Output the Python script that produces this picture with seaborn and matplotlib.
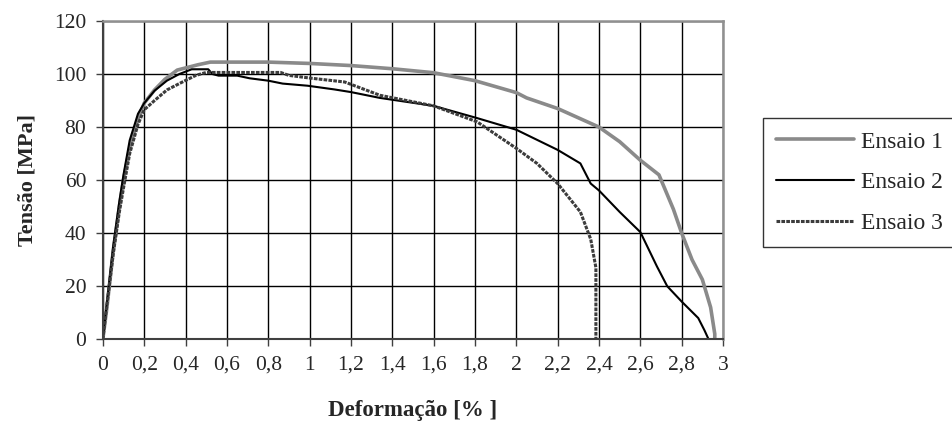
import matplotlib
matplotlib.use("Agg")
import matplotlib.pyplot as plt
import seaborn as sns
import pandas as pd

# ---- data ----
x1 = [0, 0.02, 0.05, 0.08, 0.10, 0.13, 0.17, 0.20, 0.25, 0.30, 0.36, 0.46, 0.52, 0.80, 1.00,
      1.20, 1.40, 1.60, 1.80, 2.00, 2.05, 2.20, 2.40, 2.50, 2.60, 2.69, 2.76, 2.80, 2.85,
      2.90, 2.94, 2.96, 2.96]
y1 = [0, 12, 33, 50, 60, 72, 83, 89, 94, 98, 101.5, 103.5, 104.5, 104.5, 104,
      103.2, 102, 100.5, 97.5, 93, 91, 87, 80, 74.5, 67.5, 62, 49, 40, 30,
      22.5, 12, 2, 0]

x2 = [0, 0.02, 0.05, 0.08, 0.10, 0.13, 0.17, 0.20, 0.25, 0.31, 0.37, 0.43, 0.51, 0.53, 0.56,
      0.65, 0.71, 0.80, 0.87, 0.99, 1.12, 1.20, 1.34, 1.60, 1.81, 2.00, 2.20, 2.31, 2.36,
      2.40, 2.50, 2.60, 2.68, 2.73, 2.80, 2.88, 2.91, 2.93]
y2 = [0, 14, 35, 52, 62, 75, 85, 89, 93.7, 97.5, 100, 101.8, 101.8, 100, 99.4,
      99.4, 98.4, 97.5, 96.4, 95.6, 94.2, 93.2, 91, 88, 83.4, 79, 71.4, 66.3, 58.7,
      56.1, 48, 40.4, 27.5, 20, 14.2, 8, 3.4, 0]

x3 = [0, 0.02, 0.05, 0.08, 0.10, 0.13, 0.17, 0.20, 0.25, 0.31, 0.38, 0.45, 0.50, 0.86, 0.90,
      1.00, 1.17, 1.34, 1.60, 1.81, 2.00, 2.10, 2.20, 2.31, 2.36, 2.385, 2.385]
y3 = [0, 13, 32, 48, 57, 70, 81, 86.5, 90, 94, 96.8, 99.5, 100.6, 100.6, 99.5,
      98.5, 97, 92, 88, 82, 72, 66.3, 58.7, 48, 37.7, 27, 0]

series_names = ["Ensaio 1", "Ensaio 2", "Ensaio 3"]
x_ticks = [0, 0.2, 0.4, 0.6, 0.8, 1, 1.2, 1.4, 1.6, 1.8, 2, 2.2, 2.4, 2.6, 2.8, 3]
x_tick_labels = ["0", "0,2", "0,4", "0,6", "0,8", "1", "1,2", "1,4", "1,6", "1,8", "2",
                 "2,2", "2,4", "2,6", "2,8", "3"]
y_ticks = [0, 20, 40, 60, 80, 100, 120]

df = pd.concat([
    pd.DataFrame({"x": x1, "y": y1, "s": series_names[0]}),
    pd.DataFrame({"x": x2, "y": y2, "s": series_names[1]}),
    pd.DataFrame({"x": x3, "y": y3, "s": series_names[2]}),
], ignore_index=True)

sns.set_style("white")
plt.rcParams["font.family"] = ["Liberation Serif", "DejaVu Serif"]

fig = plt.figure(figsize=(9.52, 4.33), dpi=100)
ax = fig.add_axes([0.108, 0.2165, 0.6515, 0.735])

styles = {
    "Ensaio 1": dict(color="#8a8a8a", lw=2.6, ls="-"),
    "Ensaio 2": dict(color="#000000", lw=1.5, ls="-"),
    "Ensaio 3": dict(color="#3c3c3c", lw=2.2, ls=(0, (1.2, 0.4))),
}
for name in series_names:
    sub = df[df["s"] == name]
    st = styles[name]
    sns.lineplot(data=sub, x="x", y="y", sort=False, estimator=None, ax=ax,
                 color=st["color"], lw=st["lw"], linestyle=st["ls"], label=name,
                 legend=False)

ax.set_xlim(0, 3)
ax.set_ylim(0, 120)
ax.set_xticks(x_ticks)
ax.set_xticklabels(x_tick_labels)
ax.set_yticks(y_ticks)
ax.grid(True, color="black", lw=1.0)
ax.set_axisbelow(True)
for s in ["top", "right"]:
    ax.spines[s].set_color("#909090")
    ax.spines[s].set_linewidth(1.8)
for s in ["left", "bottom"]:
    ax.spines[s].set_color("#404040")
    ax.spines[s].set_linewidth(1.5)
ax.tick_params(axis="both", direction="out", length=5, width=1, color="#404040",
               labelsize=15.5, bottom=True, left=True, top=False, right=False, pad=7)
ax.set_xlabel("Deformação [% ]", fontsize=16.5, fontweight="bold", labelpad=18)
ax.set_ylabel("Tensão [MPa]", fontsize=16, fontweight="bold", labelpad=12)

handles, labels = ax.get_legend_handles_labels()
leg = fig.legend(handles, labels, loc="upper left", bbox_to_anchor=(763 / 952, 1 - 118 / 433),
                 frameon=True, fancybox=False, fontsize=17, handlelength=3.3,
                 handletextpad=0.3, labelspacing=0.82, borderpad=0.55, borderaxespad=0)
leg.get_frame().set_edgecolor("black")
leg.get_frame().set_linewidth(1.0)

fig.savefig("out.png", dpi=100)
